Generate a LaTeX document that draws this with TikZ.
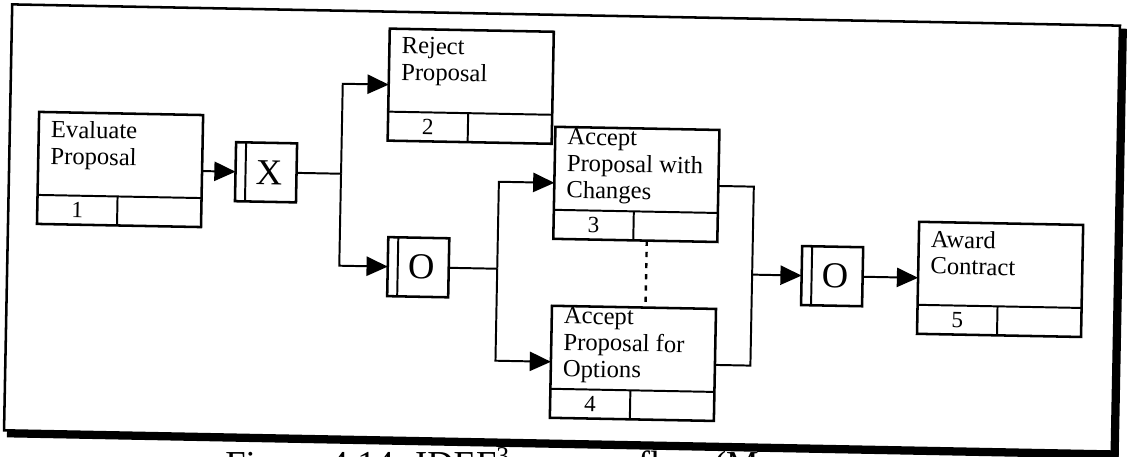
\documentclass[tikz,border=0pt]{standalone}
\usepackage{fontspec}
\setmainfont{Liberation Serif}
\usetikzlibrary{arrows.meta, calc}

% unit of behaviour: name, x, y, label, label offset, number
\newcommand{\uobbox}[6]{%
  \node[uob] (#1) at (#2,#3) {};
  \node[uoblabel] (#1-label) at ($(#1.north west)+(12,#5)$) {#4};
  \draw[strip] ($(#1.south west)+(0,-29)$) -- ($(#1.south east)+(0,-29)$);
  \draw[strip] ($(#1.south west)+(80,-29)$) -- ($(#1.south west)+(80,0)$);
  \node[uobnum] (#1-num) at ($(#1.south west)+(40,-14.5)$) {#6};
}
% junction: name, x, y, type
\newcommand{\junctionbox}[4]{%
  \node[junc] (#1) at (#2,#3) {};
  \draw[strip] ($(#1.north west)+(10,0)$) -- ($(#1.south west)+(10,0)$);
  \node[junctext] (#1-type) at ($(#1.center)+(3,0)$) {#4};
}

\begin{document}
\begin{tikzpicture}[
  x=0.025cm, y=-0.025cm,
  uob/.style={draw, line width=1.8pt, outer sep=0pt, inner sep=0pt,
    minimum width=4.1cm, minimum height=2.8cm},
  uoblabel/.style={anchor=north west, inner sep=0pt, align=left,
    font=\fontsize{17.5}{18.9}\selectfont},
  uobnum/.style={inner sep=0pt, font=\fontsize{16.5}{18}\selectfont},
  strip/.style={line width=1.4pt},
  junc/.style={draw, line width=1.8pt, outer sep=0pt, inner sep=0pt,
    minimum width=1.525cm, minimum height=1.475cm},
  junctext/.style={inner sep=0pt, font=\fontsize{26}{28}\selectfont},
  link/.style={line width=1.4pt},
  flow/.style={link, -{Triangle[length=0.53cm, width=0.48cm]}},
  dots/.style={line width=1.7pt, dash pattern=on 0.13cm off 0.15cm},
  frame/.style={line width=1.8pt},
  caption/.style={anchor=base west, inner sep=0pt,
    font=\fontsize{26}{30}\selectfont},
]
  \useasboundingbox (-563,-229) rectangle (564,228);
  \clip (-563,-229) rectangle (564,228);
  \fill[white] (-563,-229) rectangle (564,228);

  \begin{scope}[rotate=-1.1, transform shape]
    % frame with shadow
    \draw[frame] (-555,-214) rectangle (553,212);
    \fill (553,-211) rectangle (560,219);
    \fill (-552,212) rectangle (560,219);

    \uobbox{box1}{-444}{-51}{Evaluate\\Proposal}{8}{1}
    \junctionbox{xj}{-298}{-51}{X}
    \uobbox{box2}{-95}{-141}{Reject\\Proposal}{8}{2}
    \junctionbox{o1}{-144}{41}{O}
    \uobbox{box3}{72.5}{-46}{Accept\\Proposal with\\Changes}{1}{3}
    \uobbox{box4}{72.5}{133}{Accept\\Proposal for\\Options}{1}{4}
    \junctionbox{o2}{270}{42}{O}
    \uobbox{box5}{438}{42}{Award\\Contract}{8}{5}

    % bends
    \coordinate (split) at (-223,-51);
    \coordinate (split-up) at (-223,-141);
    \coordinate (split-down) at (-223,41);
    \coordinate (fanout) at (-65,41);
    \coordinate (fan-up) at (-65,-46);
    \coordinate (fan-down) at (-65,133);
    \coordinate (join) at (190,42);
    \coordinate (join-up) at (190,-46);
    \coordinate (join-down) at (190,133);

    \draw[flow] (box1.east) -- (xj.west);
    \draw[link] (xj.east) -- (split);
    \draw[flow] (split) -- (split-up) -- (box2.west);
    \draw[flow] (split) -- (split-down) -- (o1.west);
    \draw[link] (o1.east) -- (fanout);
    \draw[flow] (fanout) -- (fan-up) -- (box3.west);
    \draw[flow] (fanout) -- (fan-down) -- (box4.west);
    \draw[link] (box3.east) -- (join-up) -- (join-down) -- (box4.east);
    \draw[flow] (join) -- (o2.west);
    \draw[flow] (o2.east) -- (box5.west);
    \draw[dots] ($(box3.south)+(11.5,0)$) -- ($(box4.north)+(11.5,0)$);
  \end{scope}

  \node[caption] (caption) at (-338,248)
    {Figure 4.14. IDEF\textsuperscript{3} process flow (M};
\end{tikzpicture}
\end{document}
